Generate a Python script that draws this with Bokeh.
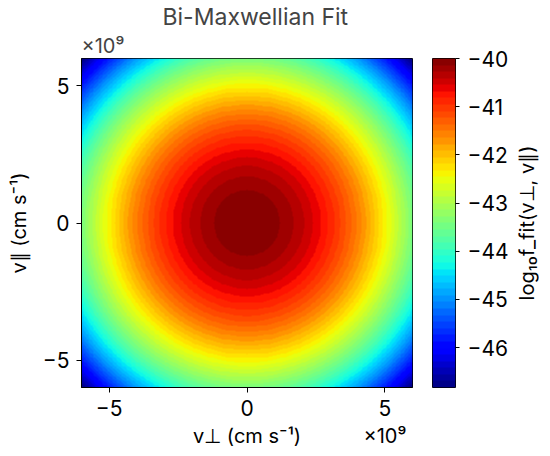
import numpy as np
from bokeh.plotting import figure
from bokeh.layouts import row
from bokeh.models import LinearColorMapper, Range1d, FixedTicker, Title, LinearAxis
from bokeh.embed import file_html
from bokeh.resources import INLINE

# ---------------- data ----------------
v_scale = 1e9                      # axis offset "×10⁹"
v_perp_limits = [-6e9, 6e9]        # cm/s
v_par_limits = [-6e9, 6e9]         # cm/s
peak_log10_f = -40.0               # log10 f at the origin
w_perp = 2.14e9                    # thermal speed, perpendicular (cm/s)
w_par = 2.14e9                     # thermal speed, parallel (cm/s)
n_levels = 50                      # filled-contour levels
x_ticks = [-5, 0, 5]
y_ticks = [-5, 0, 5]
cbar_ticks = [-46, -45, -44, -43, -42, -41, -40]
title_text = "Bi-Maxwellian Fit"
x_label = "v⊥ (cm s⁻¹)"
y_label = "v∥ (cm s⁻¹)"
cbar_label = "log₁₀f_fit(v⊥, v∥)"
offset_text = "×10⁹"

FONT = "Inter"

# ---------------- bi-Maxwellian field ----------------
N = 401
vperp = np.linspace(v_perp_limits[0], v_perp_limits[1], N)
vpar = np.linspace(v_par_limits[0], v_par_limits[1], N)
VP, VA = np.meshgrid(vperp, vpar)
logf = peak_log10_f - (VP**2 / w_perp**2 + VA**2 / w_par**2) * np.log10(np.e)
zmin, zmax = float(logf.min()), float(logf.max())
levels = np.linspace(zmin, zmax, n_levels + 1)
mids = 0.5 * (levels[:-1] + levels[1:])
idx = np.clip(np.digitize(logf, levels) - 1, 0, n_levels - 1)
banded = mids[idx]

# jet colormap
def jet(n):
    t = np.linspace(0, 1, n)
    r = np.interp(t, [0, .35, .66, .89, 1], [0, 0, 1, 1, .5])
    g = np.interp(t, [0, .125, .375, .64, .91, 1], [0, 0, 1, 1, 0, 0])
    b = np.interp(t, [0, .11, .34, .65, 1], [.5, 1, 1, 0, 0])
    return ["#%02x%02x%02x" % (int(round(a * 255)), int(round(c * 255)), int(round(d * 255)))
            for a, c, d in zip(r, g, b)]

mapper = LinearColorMapper(palette=jet(256), low=zmin, high=zmax)

def minus(v):
    return ("−" + str(abs(v))) if v < 0 else str(v)

TICK_FS = "21px"
LABEL_FS = "20px"
FRAME_H = 329

# ---------------- main figure ----------------
x_center = 0.5 * (v_perp_limits[0] + v_perp_limits[1]) / v_scale
p = figure(frame_width=331, frame_height=FRAME_H,
           x_range=Range1d(v_perp_limits[0] / v_scale, v_perp_limits[1] / v_scale),
           y_range=Range1d(v_par_limits[0] / v_scale, v_par_limits[1] / v_scale),
           output_backend="svg", toolbar_location=None, title=None,
           min_border_left=81, min_border_right=16, min_border_top=58, min_border_bottom=4)
p.image(image=[banded], x=v_perp_limits[0] / v_scale, y=v_par_limits[0] / v_scale,
        dw=(v_perp_limits[1] - v_perp_limits[0]) / v_scale,
        dh=(v_par_limits[1] - v_par_limits[0]) / v_scale,
        color_mapper=mapper)

p.add_layout(Title(text=offset_text, align="left", text_font=FONT, text_font_size="20px",
                   text_font_style="normal", standoff=2), "above")
p.add_layout(Title(text=title_text, align="left", text_font=FONT, text_font_size="23px",
                   text_font_style="normal", standoff=0, offset=81), "above")

p.grid.visible = False
p.outline_line_color = "black"
p.outline_line_alpha = 1
p.outline_line_width = 1
p.background_fill_color = "white"

for ax, ticks in ((p.xaxis[0], x_ticks), (p.yaxis[0], y_ticks)):
    ax.ticker = FixedTicker(ticks=ticks)
    ax.major_label_overrides = {t: minus(t) for t in ticks}
    ax.minor_tick_line_color = None
    ax.major_tick_in = 0
    ax.major_tick_out = 5
    ax.major_tick_line_color = "black"
    ax.axis_line_color = "black"
    ax.major_label_text_font = FONT
    ax.major_label_text_font_size = TICK_FS
    ax.major_label_text_color = "black"
    ax.major_label_standoff = 7

ya0 = p.yaxis[0]
ya0.axis_label = y_label
ya0.axis_label_text_font = FONT
ya0.axis_label_text_font_size = LABEL_FS
ya0.axis_label_text_font_style = "normal"
ya0.axis_label_text_color = "black"
ya0.axis_label_standoff = 9

# second line under the x axis: axis title (centred) and offset text "×10⁹" (under last tick)
x2 = LinearAxis(ticker=FixedTicker(ticks=[x_center, x_ticks[-1]]),
                major_label_overrides={x_center: x_label, x_ticks[-1]: offset_text},
                major_tick_out=0, major_tick_in=0, minor_tick_line_color=None,
                axis_line_color=None, major_label_standoff=5,
                major_label_text_font=FONT, major_label_text_font_size=LABEL_FS,
                major_label_text_color="black")
p.add_layout(x2, "below")

# ---------------- colorbar figure ----------------
cb = figure(frame_width=23, frame_height=FRAME_H, x_range=Range1d(0, 1), y_range=Range1d(zmin, zmax),
            y_axis_location="right", output_backend="svg", toolbar_location=None,
            min_border_left=4, min_border_right=54, min_border_top=58, min_border_bottom=4)
cb.image(image=[mids.reshape(-1, 1)], x=0, y=zmin, dw=1, dh=zmax - zmin, color_mapper=mapper)
cb.grid.visible = False
cb.xaxis.visible = False
cb.outline_line_color = "black"
cb.outline_line_alpha = 1
ya = cb.yaxis[0]
ya.ticker = FixedTicker(ticks=cbar_ticks)
ya.major_label_overrides = {t: minus(t) for t in cbar_ticks}
ya.minor_tick_line_color = None
ya.major_tick_in = 0
ya.major_tick_out = 4
ya.axis_line_color = None
ya.major_label_text_font = FONT
ya.major_label_text_font_size = TICK_FS
ya.major_label_text_color = "black"
ya.major_label_standoff = 8

# colorbar label (reads bottom-to-top, like a left axis label)
lb = figure(frame_width=1, frame_height=FRAME_H, x_range=Range1d(0, 1), y_range=Range1d(zmin, zmax),
            output_backend="svg", toolbar_location=None,
            min_border_left=26, min_border_right=0, min_border_top=58, min_border_bottom=4)
lb.outline_line_color = None
lb.grid.visible = False
lb.xaxis.visible = False
la = lb.yaxis[0]
la.ticker = FixedTicker(ticks=[])
la.major_tick_out = 0
la.major_tick_in = 0
la.minor_tick_line_color = None
la.axis_line_color = None
la.major_label_text_font_size = "0px"
la.major_label_standoff = 0
la.axis_label = cbar_label
la.axis_label_text_font = FONT
la.axis_label_text_font_size = LABEL_FS
la.axis_label_text_font_style = "normal"
la.axis_label_text_color = "black"
la.axis_label_standoff = 0

layout = row(p, cb, lb)
open("out.html", "w").write(file_html(layout, INLINE))
